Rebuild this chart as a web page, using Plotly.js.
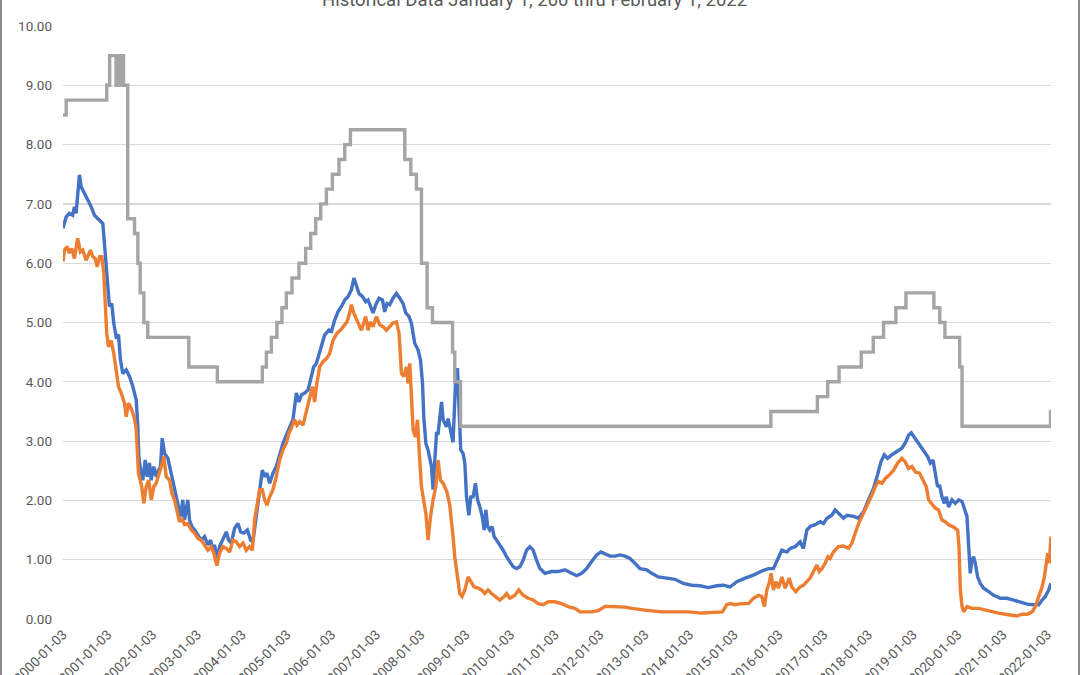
<!DOCTYPE html>
<html>
<head>
<meta charset="utf-8">
<script src="https://cdn.plot.ly/plotly-3.0.1.min.js"></script>
<style>
  html, body { margin: 0; padding: 0; background: #fff; }
  #wrap { position: relative; width: 1080px; height: 675px; }
  #chart { width: 1080px; height: 675px; }
  #frame { position: absolute; left: 0; top: 0; width: 1080px; height: 675px; box-sizing: border-box;
           border-left: 2px solid #8c8c8c; border-right: 2px solid #8c8c8c; pointer-events: none; }
</style>
</head>
<body>
<div id="wrap"><div id="chart"></div><div id="frame"></div></div>
<script>
// Decimal-year dates (2000.000 = 2000-01-03) and values
const blueT = [2000.000,2000.072,2000.145,2000.219,2000.257,2000.295,2000.369,2000.407,2000.481,2000.555,2000.631,2000.705,2000.817,2000.890,2000.928,2000.966,2001.002,2001.040,2001.092,2001.136,2001.190,2001.242,2001.286,2001.338,2001.414,2001.488,2001.561,2001.638,2001.673,2001.696,2001.734,2001.785,2001.839,2001.884,2001.935,2001.973,2002.031,2002.085,2002.136,2002.181,2002.219,2002.271,2002.344,2002.405,2002.456,2002.510,2002.568,2002.629,2002.680,2002.718,2002.756,2002.792,2002.830,2002.881,2002.942,2003.016,2003.092,2003.166,2003.239,2003.300,2003.351,2003.389,2003.441,2003.501,2003.575,2003.651,2003.702,2003.763,2003.837,2003.910,2003.971,2004.045,2004.121,2004.195,2004.246,2004.322,2004.380,2004.456,2004.508,2004.559,2004.620,2004.693,2004.769,2004.843,2004.917,2004.993,2005.067,2005.141,2005.217,2005.275,2005.329,2005.403,2005.476,2005.537,2005.604,2005.664,2005.776,2005.850,2005.946,2006.000,2006.074,2006.148,2006.224,2006.298,2006.371,2006.447,2006.505,2006.559,2006.617,2006.693,2006.767,2006.819,2006.872,2006.930,2006.991,2007.065,2007.141,2007.192,2007.244,2007.304,2007.378,2007.454,2007.528,2007.602,2007.662,2007.736,2007.789,2007.863,2007.937,2007.991,2008.036,2008.065,2008.110,2008.161,2008.237,2008.273,2008.311,2008.349,2008.385,2008.423,2008.460,2008.496,2008.572,2008.608,2008.668,2008.720,2008.773,2008.818,2008.847,2008.892,2008.944,2008.982,2009.020,2009.071,2009.116,2009.167,2009.221,2009.266,2009.317,2009.369,2009.414,2009.452,2009.490,2009.541,2009.593,2009.637,2009.691,2009.765,2009.839,2009.915,2009.989,2010.063,2010.139,2010.212,2010.286,2010.362,2010.436,2010.510,2010.586,2010.660,2010.772,2010.922,2011.069,2011.219,2011.369,2011.481,2011.593,2011.704,2011.816,2011.928,2012.024,2012.114,2012.226,2012.337,2012.449,2012.561,2012.673,2012.785,2012.897,2013.046,2013.158,2013.306,2013.494,2013.680,2013.865,2014.053,2014.239,2014.425,2014.613,2014.761,2014.910,2015.060,2015.246,2015.431,2015.619,2015.767,2015.879,2015.955,2016.067,2016.179,2016.253,2016.364,2016.476,2016.550,2016.626,2016.700,2016.812,2016.924,2016.998,2017.074,2017.185,2017.259,2017.333,2017.445,2017.521,2017.668,2017.780,2017.892,2018.004,2018.116,2018.205,2018.281,2018.355,2018.429,2018.527,2018.639,2018.751,2018.841,2018.899,2018.959,2019.026,2019.087,2019.161,2019.250,2019.324,2019.385,2019.445,2019.496,2019.548,2019.592,2019.646,2019.697,2019.742,2019.793,2019.869,2019.943,2020.017,2020.094,2020.152,2020.205,2020.241,2020.279,2020.317,2020.353,2020.391,2020.442,2020.503,2020.577,2020.689,2020.801,2020.951,2021.101,2021.248,2021.398,2021.548,2021.695,2021.807,2021.883,2021.957,2022.031,2022.079];
const blueV = [6.59,6.78,6.84,6.81,6.95,6.84,7.49,7.29,7.18,7.07,6.95,6.81,6.73,6.67,6.34,5.94,5.49,5.27,5.32,4.99,4.76,4.79,4.37,4.14,4.20,4.09,3.92,3.69,3.24,2.74,2.51,2.34,2.68,2.40,2.63,2.34,2.57,2.40,2.51,2.57,3.05,2.79,2.71,2.51,2.34,2.18,1.95,1.73,2.01,1.67,1.84,2.01,1.67,1.56,1.50,1.42,1.33,1.39,1.25,1.33,1.16,1.25,1.00,1.22,1.33,1.47,1.33,1.28,1.53,1.61,1.47,1.45,1.50,1.33,1.30,1.73,2.12,2.51,2.40,2.46,2.29,2.46,2.57,2.79,2.96,3.10,3.24,3.36,3.81,3.66,3.78,3.81,3.86,4.03,4.25,4.31,4.59,4.79,4.87,4.85,5.04,5.18,5.27,5.38,5.44,5.55,5.75,5.63,5.49,5.44,5.35,5.38,5.27,5.16,5.30,5.41,5.38,5.18,5.32,5.30,5.41,5.49,5.41,5.32,5.16,5.10,4.99,4.65,4.54,4.37,3.97,3.41,2.96,2.85,2.57,2.18,2.68,3.13,3.13,3.36,3.66,3.36,3.24,3.38,3.19,2.98,3.97,4.23,3.64,2.85,2.79,2.63,2.06,1.75,2.06,2.06,2.29,2.01,1.89,1.73,1.50,1.84,1.56,1.50,1.56,1.39,1.33,1.25,1.16,1.05,0.97,0.88,0.85,0.88,0.99,1.16,1.22,1.16,0.99,0.85,0.77,0.80,0.80,0.83,0.77,0.73,0.77,0.85,0.97,1.08,1.13,1.10,1.06,1.06,1.08,1.06,1.02,0.94,0.85,0.83,0.77,0.71,0.69,0.67,0.60,0.57,0.56,0.53,0.56,0.57,0.54,0.63,0.69,0.74,0.81,0.85,0.85,0.99,1.16,1.13,1.19,1.22,1.30,1.19,1.50,1.56,1.59,1.64,1.61,1.70,1.75,1.84,1.78,1.70,1.75,1.73,1.70,1.81,2.01,2.20,2.43,2.65,2.77,2.71,2.77,2.82,2.88,2.99,3.10,3.14,3.07,2.99,2.93,2.82,2.74,2.63,2.68,2.46,2.23,2.26,2.06,1.95,2.06,1.89,2.01,1.95,2.01,1.98,1.84,1.73,1.22,0.77,0.99,1.05,0.94,0.71,0.60,0.52,0.46,0.40,0.35,0.35,0.32,0.28,0.25,0.24,0.24,0.32,0.38,0.49,0.60];

const orangeT = [2000.000,2000.034,2000.094,2000.145,2000.197,2000.257,2000.331,2000.391,2000.443,2000.519,2000.615,2000.667,2000.720,2000.765,2000.817,2000.868,2000.913,2000.944,2000.980,2001.018,2001.078,2001.136,2001.190,2001.242,2001.302,2001.376,2001.414,2001.465,2001.526,2001.600,2001.638,2001.660,2001.689,2001.763,2001.808,2001.861,2001.919,2001.973,2002.031,2002.085,2002.136,2002.197,2002.255,2002.309,2002.383,2002.434,2002.494,2002.555,2002.606,2002.658,2002.718,2002.792,2002.868,2002.942,2003.016,2003.092,2003.166,2003.239,2003.315,2003.373,2003.441,2003.501,2003.575,2003.651,2003.725,2003.799,2003.875,2003.948,2004.022,2004.098,2004.172,2004.233,2004.284,2004.336,2004.396,2004.456,2004.508,2004.559,2004.620,2004.693,2004.769,2004.843,2004.917,2004.993,2005.051,2005.105,2005.179,2005.230,2005.291,2005.365,2005.425,2005.499,2005.575,2005.626,2005.664,2005.738,2005.812,2005.901,2005.962,2006.036,2006.125,2006.201,2006.275,2006.349,2006.409,2006.447,2006.499,2006.559,2006.617,2006.671,2006.723,2006.767,2006.819,2006.872,2006.930,2007.007,2007.080,2007.154,2007.230,2007.304,2007.378,2007.454,2007.512,2007.566,2007.617,2007.678,2007.713,2007.751,2007.789,2007.825,2007.879,2007.924,2007.960,2008.013,2008.049,2008.110,2008.161,2008.215,2008.273,2008.333,2008.385,2008.438,2008.496,2008.579,2008.646,2008.684,2008.720,2008.758,2008.796,2008.832,2008.870,2008.921,2008.982,2009.056,2009.116,2009.190,2009.279,2009.355,2009.429,2009.503,2009.579,2009.653,2009.765,2009.861,2009.915,2009.989,2010.100,2010.190,2010.286,2010.398,2010.510,2010.622,2010.733,2010.845,2010.995,2011.145,2011.293,2011.443,2011.555,2011.667,2011.816,2011.964,2012.114,2012.264,2012.412,2012.561,2012.711,2012.859,2013.009,2013.383,2013.680,2013.978,2014.277,2014.575,2014.738,2014.836,2014.910,2015.022,2015.172,2015.320,2015.431,2015.543,2015.619,2015.677,2015.731,2015.782,2015.827,2015.879,2015.932,2015.991,2016.067,2016.141,2016.230,2016.290,2016.380,2016.476,2016.550,2016.626,2016.700,2016.774,2016.850,2016.901,2016.962,2017.036,2017.096,2017.147,2017.221,2017.333,2017.445,2017.557,2017.633,2017.707,2017.780,2017.857,2017.930,2018.004,2018.080,2018.154,2018.228,2018.304,2018.378,2018.474,2018.563,2018.653,2018.751,2018.825,2018.899,2018.975,2019.049,2019.145,2019.221,2019.295,2019.346,2019.422,2019.496,2019.570,2019.646,2019.720,2019.794,2019.906,2019.996,2020.027,2020.056,2020.094,2020.130,2020.206,2020.317,2020.465,2020.615,2020.764,2020.912,2021.062,2021.212,2021.324,2021.436,2021.548,2021.660,2021.733,2021.807,2021.883,2021.934,2021.979,2022.008,2022.046,2022.079];
const orangeV = [6.03,6.22,6.28,6.17,6.25,6.08,6.42,6.19,6.22,6.05,6.22,6.11,6.08,5.94,6.11,6.11,5.83,5.38,4.82,4.59,4.70,4.48,4.14,3.92,3.81,3.64,3.41,3.64,3.55,3.38,3.19,2.68,2.46,2.23,1.95,2.23,2.34,2.01,2.23,2.29,2.40,2.57,2.74,2.40,2.34,2.12,2.01,1.78,1.64,1.70,1.59,1.61,1.50,1.45,1.36,1.33,1.25,1.16,1.22,1.11,0.90,1.11,1.22,1.19,1.13,1.33,1.30,1.22,1.28,1.16,1.22,1.16,1.67,1.89,2.18,2.18,2.01,1.92,2.06,2.18,2.40,2.68,2.85,2.96,3.13,3.22,3.36,3.27,3.33,3.27,3.47,3.69,3.92,3.66,3.92,4.25,4.34,4.40,4.48,4.70,4.82,4.87,4.93,5.01,5.16,5.30,5.16,5.04,4.96,4.87,4.99,5.10,4.87,5.01,4.93,5.10,4.96,4.93,4.87,4.93,4.99,5.01,4.82,4.14,4.09,4.25,3.97,4.31,3.69,3.19,3.07,3.36,2.85,2.23,2.06,1.78,1.33,1.73,2.01,2.23,2.68,2.34,2.29,2.15,1.92,1.67,1.39,1.05,0.83,0.60,0.43,0.38,0.49,0.71,0.63,0.54,0.52,0.49,0.43,0.49,0.43,0.38,0.32,0.38,0.43,0.35,0.40,0.49,0.40,0.35,0.32,0.26,0.24,0.29,0.29,0.26,0.21,0.18,0.12,0.12,0.12,0.14,0.21,0.21,0.21,0.20,0.18,0.16,0.15,0.12,0.12,0.12,0.10,0.11,0.12,0.24,0.26,0.24,0.26,0.26,0.35,0.40,0.38,0.21,0.49,0.60,0.77,0.49,0.63,0.52,0.71,0.52,0.69,0.54,0.46,0.54,0.57,0.63,0.69,0.80,0.91,0.80,0.85,0.94,1.05,1.02,1.13,1.22,1.23,1.19,1.28,1.45,1.61,1.73,1.84,1.95,2.09,2.23,2.32,2.29,2.37,2.43,2.51,2.63,2.71,2.65,2.54,2.57,2.48,2.46,2.34,2.23,2.01,1.95,1.87,1.84,1.67,1.64,1.59,1.55,1.50,1.22,0.49,0.21,0.12,0.21,0.18,0.18,0.15,0.12,0.10,0.08,0.06,0.05,0.08,0.08,0.12,0.21,0.38,0.54,0.71,0.99,1.11,0.94,1.39];

const grayT = [2000.000,2000.072,2000.980,2001.045,2001.186,2001.208,2001.230,2001.253,2001.286,2001.304,2001.353,2001.447,2001.600,2001.673,2001.727,2001.808,2001.897,2002.814,2003.450,2004.456,2004.546,2004.658,2004.783,2004.895,2004.993,2005.118,2005.275,2005.425,2005.537,2005.649,2005.761,2005.888,2006.022,2006.170,2006.298,2006.425,2007.640,2007.774,2007.901,2008.013,2008.138,2008.259,2008.709,2008.758,2008.886,2015.820,2016.861,2017.091,2017.346,2017.841,2018.109,2018.339,2018.617,2018.840,2019.464,2019.596,2019.710,2020.041,2020.095,2022.070,2022.079];
const grayV = [8.5,8.75,9.0,9.5,9.0,9.5,9.0,9.5,9.0,9.5,9.0,6.75,6.5,6.0,5.5,5.0,4.75,4.25,4.0,4.25,4.5,4.75,5.0,5.25,5.5,5.75,6.0,6.25,6.5,6.75,7.0,7.25,7.5,7.75,8.0,8.25,7.75,7.5,7.25,6.0,5.25,5.0,4.5,4.0,3.25,3.5,3.75,4.0,4.25,4.5,4.75,5.0,5.25,5.5,5.25,5.0,4.75,4.25,3.25,3.5,3.5];

const titleText = 'Historical Data January 1, 200 thru February 1, 2022';

function toDate(t) {
  const ms = Date.UTC(2000, 0, 3) + (t - 2000) * 365.25 * 86400000;
  return new Date(ms).toISOString().slice(0, 10);
}

const tickFont = { family: 'Roboto, Arial, sans-serif', size: 13.5, color: '#595959' };

const traces = [
  { x: blueT.map(toDate), y: blueV, type: 'scatter', mode: 'lines', name: 'Series 1',
    line: { color: '#4472C4', width: 3.4 }, hoverinfo: 'x+y' },
  { x: orangeT.map(toDate), y: orangeV, type: 'scatter', mode: 'lines', name: 'Series 2',
    line: { color: '#ED7D31', width: 3.4 }, hoverinfo: 'x+y' },
  { x: grayT.map(toDate), y: grayV, type: 'scatter', mode: 'lines', name: 'Series 3',
    line: { color: '#A5A5A5', width: 3.4, shape: 'hv' }, hoverinfo: 'x+y' }
];

const layout = {
  width: 1080, height: 675,
  margin: { l: 63, r: 29, t: 26, b: 56, pad: 0 },
  paper_bgcolor: '#ffffff', plot_bgcolor: '#ffffff',
  showlegend: false,
  title: { text: titleText, font: { family: 'Roboto, Arial, sans-serif', size: 18.5, color: '#595959' },
           xref: 'container', x: 0.495, xanchor: 'center', yref: 'container', y: 1, yanchor: 'middle' },
  xaxis: {
    type: 'date', range: ['2000-01-03', '2022-02-01'],
    tick0: '2000-01-03', dtick: 'M12', tickformat: '%Y-%m-%d', tickangle: -45,
    showgrid: false, zeroline: false, showline: false, ticks: '',
    tickfont: tickFont, ticklabelstandoff: 4
  },
  yaxis: {
    range: [0, 10], dtick: 1, tick0: 0, tickformat: '.2f',
    showgrid: true, gridcolor: '#d9d9d9', gridwidth: 1.2,
    zeroline: false, showline: false, ticks: '',
    tickfont: tickFont, ticklabelstandoff: 10
  }
};

Plotly.newPlot('chart', traces, layout, { displayModeBar: false, staticPlot: true });
</script>
</body>
</html>
